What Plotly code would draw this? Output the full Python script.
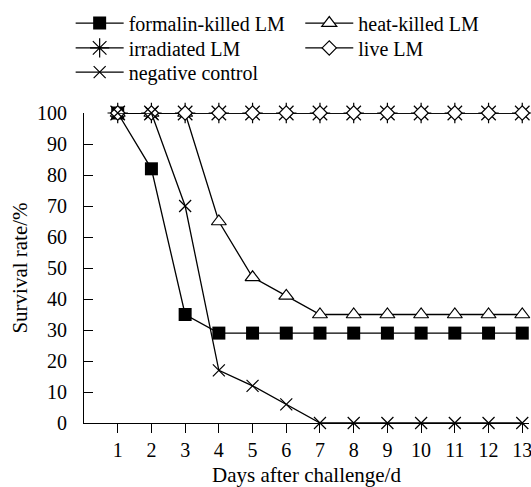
import plotly.graph_objects as go

days = list(range(1, 14))
formalin = [100, 82, 35, 29, 29, 29, 29, 29, 29, 29, 29, 29, 29]
heat = [100, 100, 100, 65, 47, 41, 35, 35, 35, 35, 35, 35, 35]
irradiated = [100] * 13
live = [100] * 13
negative = [100, 100, 70, 17, 12, 6, 0, 0, 0, 0, 0, 0, 0]
x_ticks = list(range(1, 14))
y_ticks = list(range(0, 101, 10))

FONT = "Liberation Serif"

series = [
    ("formalin-killed LM", formalin, dict(symbol="square", size=13, color="black"), "legend"),
    ("heat-killed LM", heat, dict(symbol="triangle-up", size=13, color="white", line=dict(color="black", width=1.2)), "legend2"),
    ("irradiated LM", irradiated, dict(symbol="asterisk-open", size=17, color="black", line=dict(color="black", width=1.2)), "legend3"),
    ("live LM", live, dict(symbol="diamond", size=11, color="white", line=dict(color="black", width=1.2)), "legend4"),
    ("negative control", negative, dict(symbol="x-thin-open", size=12, color="black", line=dict(color="black", width=1.2)), "legend5"),
]

fig = go.Figure()
for name, vals, marker, lg in series:
    fig.add_trace(go.Scatter(
        x=days, y=vals, name=name, mode="lines+markers", legend=lg,
        line=dict(color="black", width=1.3), marker=marker, cliponaxis=False,
    ))

col_x = [-0.03, 0.486]
row_y = [1.29, 1.21, 1.132]
leg_pos = {
    "legend": (col_x[0], row_y[0]),
    "legend2": (col_x[1], row_y[0]),
    "legend3": (col_x[0], row_y[1]),
    "legend4": (col_x[1], row_y[1]),
    "legend5": (col_x[0], row_y[2]),
}
leg_common = dict(xanchor="left", yanchor="middle", bgcolor="rgba(0,0,0,0)",
                  font=dict(family=FONT, size=20, color="black"), itemwidth=48)

fig.update_layout(
    width=531, height=487,
    margin=dict(l=84, r=2, t=113, b=64, autoexpand=False),
    paper_bgcolor="white", plot_bgcolor="white",
    font=dict(family=FONT, size=20, color="black"),
    showlegend=True,
    **{k: dict(x=v[0], y=v[1], **leg_common) for k, v in leg_pos.items()},
    xaxis=dict(
        range=[0, 13.2], tickvals=x_ticks, ticks="outside", ticklen=9, tickcolor="black",
        showline=True, linecolor="black", linewidth=1, showgrid=False, zeroline=False,
        title=dict(text="Days after challenge/d", standoff=26, font=dict(size=21)),
        tickfont=dict(size=20), automargin=False, ticklabeloverflow="allow",
    ),
    yaxis=dict(
        range=[0, 100], tickvals=y_ticks, ticks="inside", ticklen=9, tickcolor="black",
        showline=True, linecolor="black", linewidth=1, showgrid=False, zeroline=False,
        title=dict(text="Survival rate/%", standoff=3, font=dict(size=21)),
        tickfont=dict(size=20), ticklabelstandoff=12, automargin=False,
    ),
)

fig.write_html("out.html", config={"displayModeBar": False},
               post_script="document.body.style.margin='0';")
